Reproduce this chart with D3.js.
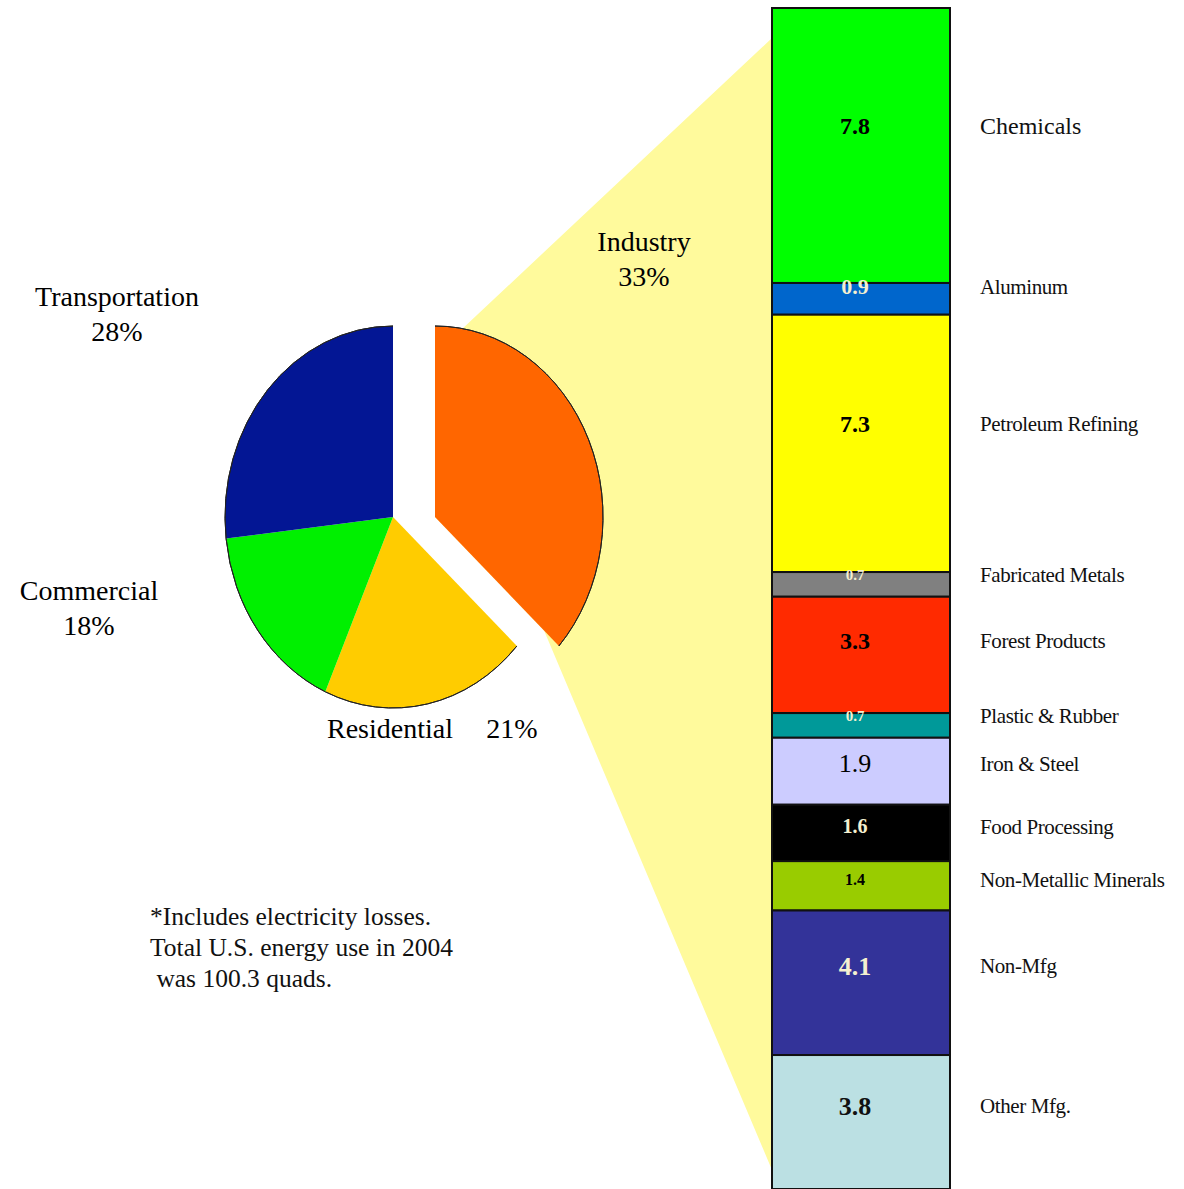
<!DOCTYPE html>
<html>
<head>
<meta charset="utf-8">
<script src="https://cdn.jsdelivr.net/npm/d3@7"></script>
<style>
  body { margin: 0; background: #fff; }
  svg { display: block; font-family: "Liberation Serif", "Times New Roman", serif; }
</style>
</head>
<body>
<svg width="1184" height="1189"></svg>
<script>
// pie: end-use sectors (slice sizes as drawn, labels as printed)
const sectors = ["Industry", "Residential", "Commercial", "Transportation"];
const sliceShare = [36.8, 19.8, 16.6, 26.8];
const sectorPct = ["33%", "21%", "18%", "28%"];

// industry breakdown, quads
const subsectors = ["Chemicals", "Aluminum", "Petroleum Refining", "Fabricated Metals",
  "Forest Products", "Plastic & Rubber", "Iron & Steel", "Food Processing",
  "Non-Metallic Minerals", "Non-Mfg", "Other Mfg."];
const quads = [7.8, 0.9, 7.3, 0.7, 3.3, 0.7, 1.9, 1.6, 1.4, 4.1, 3.8];

const footnote = ["*Includes electricity losses.", "Total U.S. energy use in 2004", " was 100.3 quads."];

const sectorColors = ["#FF6600", "#FFCC00", "#00F000", "#031694"];
const subColors = ["#00FF00", "#0066CC", "#FFFF00", "#808080", "#FF2A00", "#009999",
  "#CCCCFF", "#000000", "#99CC00", "#333399", "#BBE0E3"];
const valueInk = ["#000", "#f5f0d0", "#000", "#f5f0d0", "#000", "#f5f0d0",
  "#000", "#f5f0d0", "#000", "#f5f0d0", "#111"];
const valueSize = [24, 22, 24, 15, 24, 15, 26, 20, 16, 26, 26];

const svg = d3.select("svg");

// ---- pie ----
const cx = 393, cy = 517, r = 168, squash = 191 / 168, explode = 42;
const pie = d3.pie().sort(null).value(d => d)(sliceShare);
const arc = d3.arc().innerRadius(0).outerRadius(r);
const rim = d3.arc().innerRadius(r).outerRadius(r);

// connector from the exploded slice to the bar
const barX0 = 772, barX1 = 950;
const total = d3.sum(quads);
const y = d3.scaleLinear().domain([0, total]).range([8, 1189]);

const ind = pie[0];
const a0 = 0.165, a1 = ind.endAngle;
const px = (a, rr) => cx + explode + rr * Math.sin(a);
const py = (a, rr) => cy - rr * Math.cos(a) * squash;
svg.append("path")
  .attr("fill", "#FFFA9C")
  .attr("d", d3.line()([
    [px(0, 0), py(0, 0)],
    [px(a0, r), py(a0, r)],
    [barX0, y(0) + 30],
    [barX0, y(total) - 19],
    [px(a1, r * 0.88), py(a1, r * 0.88)]
  ]) + "Z");

const pg = svg.append("g").attr("transform", `translate(${cx},${cy}) scale(1,${squash})`);
const slices = pg.selectAll("g.slice").data(pie).join("g")
  .attr("class", "slice")
  .attr("transform", (d, i) => i === 0 ? `translate(${explode},0)` : null);
slices.append("path")
  .attr("d", arc)
  .attr("fill", (d, i) => sectorColors[i]);
slices.append("path")
  .attr("d", rim)
  .attr("fill", "none")
  .attr("stroke", "#222")
  .attr("stroke-width", 1)
  .attr("vector-effect", "non-scaling-stroke");

// sector labels
const sectorLabelPos = [[644, 251], [390, 738], [89, 600], [117, 306]];
sectors.forEach((s, i) => {
  const [lx, ly] = sectorLabelPos[i];
  if (s === "Residential") {
    svg.append("text").attr("x", lx).attr("y", ly).attr("text-anchor", "middle")
      .attr("font-size", 28).text(s);
    svg.append("text").attr("x", 512).attr("y", ly).attr("text-anchor", "middle")
      .attr("font-size", 28).text(sectorPct[i]);
  } else {
    const t = svg.append("text").attr("text-anchor", "middle").attr("font-size", 28);
    t.append("tspan").attr("x", lx).attr("y", ly).text(s);
    t.append("tspan").attr("x", lx).attr("y", ly + 35).text(sectorPct[i]);
  }
});

// ---- stacked bar ----
const ends = d3.cumsum(quads);
const segs = quads.map((v, i) => ({ name: subsectors[i], v, y0: ends[i] - v, y1: ends[i], i }));

const bar = svg.append("g");
bar.selectAll("rect").data(segs).join("rect")
  .attr("x", barX0)
  .attr("y", d => y(d.y0))
  .attr("width", barX1 - barX0)
  .attr("height", d => y(d.y1) - y(d.y0))
  .attr("fill", d => subColors[d.i])
  .attr("stroke", "#111")
  .attr("stroke-width", 2);

const mid = d => (y(d.y0) + y(d.y1)) / 2;
// thin segments carry their number on the top edge, others sit a bit above centre
const lift = d => {
  const h = y(d.y1) - y(d.y0);
  return h < 35 ? h * 0.4 : Math.min(20, h * 0.12);
};

bar.selectAll("text.val").data(segs).join("text")
  .attr("class", "val")
  .attr("x", (barX0 + barX1) / 2 - 6)
  .attr("y", d => mid(d) - lift(d))
  .attr("dy", "0.35em")
  .attr("text-anchor", "middle")
  .attr("font-weight", d => d.name === "Iron & Steel" ? "normal" : "bold")
  .attr("font-size", d => valueSize[d.i])
  .attr("fill", d => valueInk[d.i])
  .text(d => d.v.toFixed(1));

bar.selectAll("text.name").data(segs).join("text")
  .attr("class", "name")
  .attr("x", 980)
  .attr("y", d => mid(d) - lift(d))
  .attr("dy", "0.35em")
  .attr("font-size", d => d.i === 0 ? 24 : 21)
  .attr("letter-spacing", d => d.i === 0 ? 0 : -0.4)
  .attr("fill", "#111")
  .text(d => d.name);

// footnote
const fn = svg.append("text").attr("font-size", 25.5).attr("fill", "#111");
footnote.forEach((line, i) => {
  fn.append("tspan").attr("x", 150).attr("y", 925 + i * 31)
    .attr("xml:space", "preserve").text(line);
});
</script>
</body>
</html>
